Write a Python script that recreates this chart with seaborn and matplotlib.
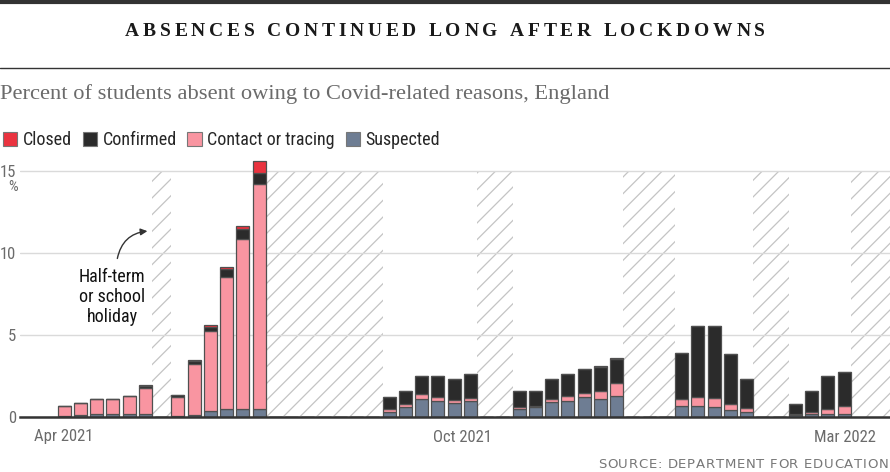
import matplotlib
matplotlib.use("Agg")
import matplotlib.pyplot as plt
from matplotlib.lines import Line2D
from matplotlib.patches import Patch
import pandas as pd
import seaborn as sns

# one slot = one school week; gaps between groups are holidays
week = [0, 1, 2, 3, 4, 5,
        7, 8, 9, 10, 11, 12,
        20, 21, 22, 23, 24, 25,
        28, 29, 30, 31, 32, 33, 34,
        38, 39, 40, 41, 42,
        45, 46, 47, 48]
suspected = [0.08, 0.10, 0.18, 0.18, 0.18, 0.18,
             0.06, 0.15, 0.35, 0.47, 0.47, 0.47,
             0.30, 0.59, 1.10, 0.97, 0.87, 0.99,
             0.51, 0.59, 0.90, 1.00, 1.20, 1.10, 1.30,
             0.70, 0.70, 0.59, 0.41, 0.33,
             0.10, 0.20, 0.20, 0.20]
contact = [0.60, 0.77, 0.90, 0.90, 1.08, 1.59,
           1.16, 3.11, 4.88, 8.09, 10.38, 13.72,
           0.16, 0.18, 0.28, 0.28, 0.18, 0.18,
           0.08, 0.10, 0.18, 0.30, 0.29, 0.51, 0.79,
           0.38, 0.49, 0.59, 0.37, 0.24,
           0.06, 0.08, 0.30, 0.46]
confirmed = [0.0, 0.0, 0.0, 0.0, 0.0, 0.12,
             0.12, 0.14, 0.26, 0.45, 0.63, 0.69,
             0.74, 0.82, 1.12, 1.25, 1.25, 1.43,
             1.01, 0.91, 1.24, 1.32, 1.42, 1.46, 1.47,
             2.85, 4.34, 4.35, 3.06, 1.75,
             0.63, 1.33, 2.02, 2.06]
closed = [0.0, 0.0, 0.0, 0.0, 0.0, 0.06,
          0.02, 0.06, 0.15, 0.16, 0.16, 0.71,
          0.0, 0.0, 0.0, 0.0, 0.0, 0.0,
          0.0, 0.0, 0.0, 0.0, 0.0, 0.04, 0.04,
          0.0, 0.0, 0.0, 0.0, 0.0,
          0.0, 0.0, 0.0, 0.0]

# half-term / school holidays (first and last week slot)
holiday_start = [6, 13, 26, 35, 43, 49]
holiday_end = [6, 19, 27, 37, 44, 51]

tick_pos = [0, 24.5, 48.05]
tick_labels = ["Apr 2021", "Oct 2021", "Mar 2022"]
y_ticks = [0, 5, 10, 15]

REASONS = ["Closed", "Confirmed", "Contact or tracing", "Suspected"]
PALETTE = {"Closed": "#ea333f", "Confirmed": "#2b2b2b",
           "Contact or tracing": "#f995a1", "Suspected": "#6e7d93"}
NARROW = ["Liberation Sans Narrow", "Roboto Condensed", "DejaVu Sans"]
GREY = "#6b6b6b"

sns.set_style("white")
plt.rcParams["font.family"] = NARROW
plt.rcParams["hatch.linewidth"] = 0.9

W, H = 890, 472
fig = plt.figure(figsize=(W / 100, H / 100), dpi=100)


def tracked_text(s, x_px, y_px, width_px, ha="center", **kw):
    """letter-spaced text squeezed/stretched to width_px"""
    r = fig.canvas.get_renderer()

    def w(txt):
        t = fig.text(0, 0, txt, **kw)
        bw = t.get_window_extent(r).width
        t.remove()
        return bw
    widths = [w(c) if c != " " else w("x x") - w("xx") for c in s]
    track = (width_px - sum(widths)) / (len(s) - 1)
    x = {"center": x_px - width_px / 2, "right": x_px - width_px}.get(ha, x_px)
    for c, cw in zip(s, widths):
        if c != " ":
            fig.text(x / W, 1 - y_px / H, c, ha="left", va="center", **kw)
        x += cw + track


# header rules + texts
fig.add_artist(Line2D([0, 1], [1 - 2 / H, 1 - 2 / H], color="#333333", lw=3,
                      transform=fig.transFigure))
fig.add_artist(Line2D([0, 1], [1 - 68 / H, 1 - 68 / H], color="#333333", lw=1,
                      transform=fig.transFigure))
tracked_text("ABSENCES CONTINUED LONG AFTER LOCKDOWNS", 445, 31, 640,
             fontsize=14, fontweight="bold", family="Liberation Serif",
             color="#1a1a1a")
fig.text(0, 1 - 94 / H, "Percent of students absent owing to Covid-related reasons, England",
         ha="left", va="center", fontsize=16.2, family="Liberation Serif", color=GREY)
tracked_text("SOURCE: DEPARTMENT FOR EDUCATION", 888, 465, 290, ha="right",
             fontsize=9.5, family="DejaVu Sans", color="#777777")

# main axes: y=0 at 417px, 16.4 px per percent; 16.25 px per week
ax = fig.add_axes([20 / W, 55 / H, 870 / W, 262.4 / H])

df = pd.concat([pd.DataFrame({"week": week, "reason": r, "pct": v})
                for r, v in zip(REASONS, [closed, confirmed, contact, suspected])],
               ignore_index=True)
sns.histplot(data=df, x="week", weights="pct", hue="reason", hue_order=REASONS,
             palette=PALETTE, multiple="stack", discrete=True, shrink=0.8,
             alpha=1, edgecolor="#505050", linewidth=0.9, legend=False, ax=ax)

for a, b in zip(holiday_start, holiday_end):
    ax.fill_between([a - 0.6, b + 0.6], 0, 15, facecolor="none",
                    edgecolor="#c4c4c4", hatch="//", linewidth=0, zorder=0.5)

ax.set_xlim(-2.71, 50.83)
ax.set_ylim(0, 16)
ax.set_xlabel("")
ax.set_ylabel("")
ax.set_yticks(y_ticks)
ax.set_yticklabels([str(t) for t in y_ticks])
ax.set_xticks(tick_pos)
ax.set_xticklabels(tick_labels)
ax.grid(axis="y", color="#dadada", lw=1)
ax.set_axisbelow(True)
for s in ("left", "right", "top"):
    ax.spines[s].set_visible(False)
ax.spines["bottom"].set_color("#333333")
ax.spines["bottom"].set_linewidth(1.8)
ax.spines["bottom"].set_zorder(5)
ax.tick_params(axis="y", length=0, pad=3, labelsize=12, labelcolor=GREY)
ax.tick_params(axis="x", length=6, width=1, color="#aaaaaa", pad=3,
               labelsize=12, labelcolor=GREY)
for lbl in ax.get_yticklabels():
    lbl.set_horizontalalignment("right")
fig.text(13 / W, 1 - 187 / H, "%", ha="center", va="center", fontsize=11, color=GREY)

# annotation
ax.text(2.95, 7.3, "Half-term\nor school\nholiday", ha="center", va="center",
        fontsize=13, color="#111111", linespacing=1.15)
ax.annotate("", xy=(5.3, 11.35), xytext=(3.25, 9.5),
            arrowprops=dict(arrowstyle="-|>", color="#333333", lw=1,
                            mutation_scale=10,
                            connectionstyle="arc3,rad=-0.4"))

handles = [Patch(facecolor=PALETTE[r], edgecolor="#777777", lw=0.8) for r in REASONS]
fig.legend(handles, REASONS, loc="center left", bbox_to_anchor=(0, 1 - 140 / H),
           ncol=4, frameon=False, fontsize=13, handlelength=0.8, handleheight=0.8,
           handletextpad=0.3, columnspacing=0.6, borderpad=0, borderaxespad=0.15)

fig.savefig("out.png", dpi=100)
